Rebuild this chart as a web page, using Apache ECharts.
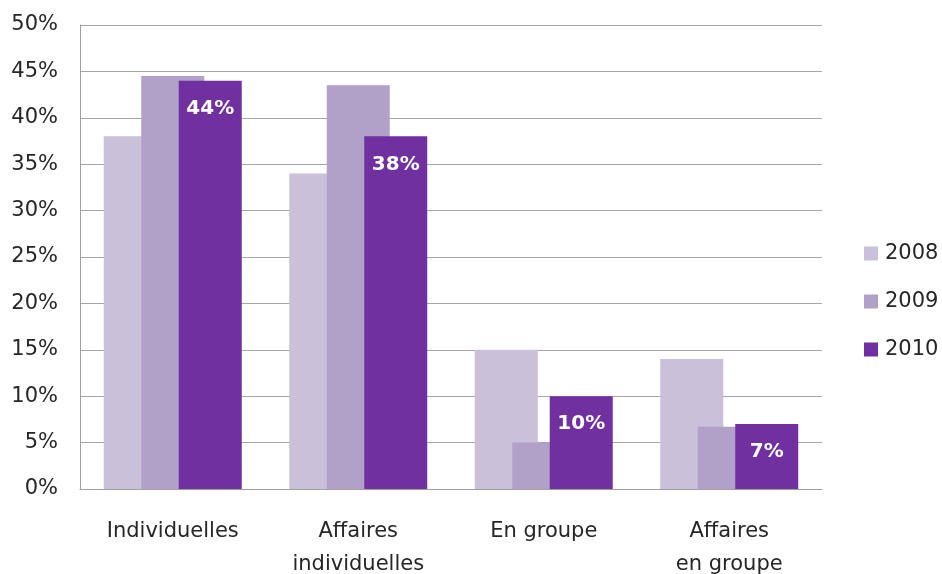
<!DOCTYPE html>
<html>
<head>
<meta charset="utf-8">
<script src="https://cdn.jsdelivr.net/npm/echarts@6/dist/echarts.min.js"></script>
<style>
  html, body { margin: 0; padding: 0; background: #fff; }
  #chart { width: 942px; height: 574px; }
</style>
</head>
<body>
<div id="chart"></div>
<script>
// categories and values
const categories = ['Individuelles', 'Affaires\nindividuelles', 'En groupe', 'Affaires\nen groupe']
const years = ['2008', '2009', '2010']
const values2008 = [38, 34, 15, 14]
const values2009 = [44.5, 43.5, 5, 6.7]
const values2010 = [44, 38, 10, 7]

const COLORS = ['#CAC0DA', '#B1A0C7', '#7030A0']
const FONT = '"DejaVu Sans", "Open Sans", sans-serif'

const chart = echarts.init(document.getElementById('chart'))

const makeSeries = (name, data, index) => ({
  name: name,
  type: 'bar',
  data: data,
  barWidth: 63,
  barGap: '-40.5%',
  itemStyle: { color: COLORS[index] },
  label: index === 2
    ? {
        show: true,
        position: 'insideTop',
        distance: 18,
        color: '#fff',
        fontFamily: FONT,
        fontWeight: 'bold',
        fontSize: 20,
        formatter: (p) => p.value + '%',
      }
    : { show: false },
})

chart.setOption({
  animation: false,
  textStyle: { fontFamily: FONT },
  grid: { left: 80, right: 120, top: 25, bottom: 85, outerBoundsMode: 'none' },
  legend: {
    orient: 'vertical',
    left: 864,
    top: 243,
    padding: 0,
    itemWidth: 14,
    itemHeight: 14,
    itemGap: 27,
    icon: 'rect',
    data: years,
    textStyle: {
      fontSize: 21,
      color: '#262626',
      fontFamily: FONT,
      padding: [0, 0, 0, 2],
    },
  },
  xAxis: {
    type: 'category',
    data: categories,
    axisTick: { show: false },
    axisLine: { lineStyle: { color: '#A0A0A0', width: 1 } },
    axisLabel: {
      color: '#262626',
      fontSize: 21,
      lineHeight: 33,
      margin: 26,
      fontFamily: FONT,
    },
  },
  yAxis: {
    type: 'value',
    min: 0,
    max: 50,
    interval: 5,
    axisLine: { show: true, lineStyle: { color: '#A0A0A0', width: 1 } },
    axisTick: { show: false },
    splitLine: { lineStyle: { color: '#A6A6A6', width: 1 } },
    axisLabel: {
      color: '#262626',
      fontSize: 21,
      margin: 22,
      fontFamily: FONT,
      formatter: '{value}%',
    },
  },
  series: [
    makeSeries(years[0], values2008, 0),
    makeSeries(years[1], values2009, 1),
    makeSeries(years[2], values2010, 2),
  ],
})
</script>
</body>
</html>
